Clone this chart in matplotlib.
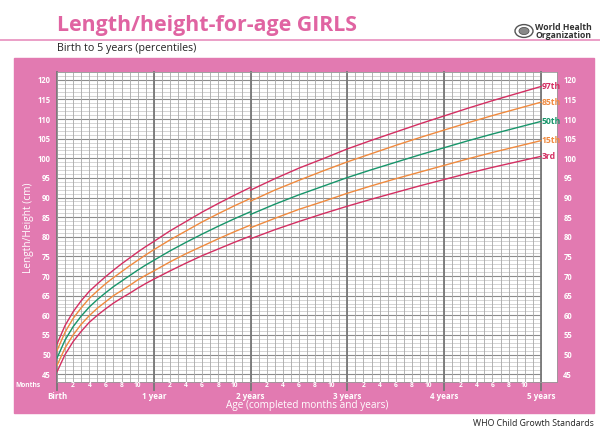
import numpy as np
import matplotlib.pyplot as plt
from matplotlib.patches import Rectangle, Circle
from matplotlib.lines import Line2D

plt.rcParams['font.family'] = ['Open Sans', 'DejaVu Sans']

# WHO girls length-for-age (birth to 2 years, lying down)
months_len = [0, 1, 2, 3, 4, 5, 6, 7, 8, 9, 10, 11, 12, 14, 16, 18, 20, 22, 24]
p3_len = [45.6, 50.0, 53.3, 55.9, 58.2, 60.0, 61.6, 63.1, 64.4, 65.6, 66.9, 68.1, 69.2, 71.3, 73.3, 75.2, 76.9, 78.6, 80.2]
p15_len = [47.2, 51.7, 55.0, 57.7, 59.9, 61.8, 63.4, 65.0, 66.3, 67.6, 69.0, 70.2, 71.3, 73.6, 75.7, 77.6, 79.5, 81.3, 83.0]
p50_len = [49.1, 53.7, 57.1, 59.8, 62.1, 64.0, 65.7, 67.3, 68.7, 70.1, 71.5, 72.8, 74.0, 76.4, 78.6, 80.7, 82.7, 84.6, 86.4]
p85_len = [51.0, 55.7, 59.2, 61.9, 64.3, 66.2, 68.0, 69.6, 71.1, 72.6, 74.0, 75.4, 76.7, 79.2, 81.5, 83.8, 85.9, 87.9, 89.8]
p97_len = [52.7, 57.4, 60.9, 63.7, 66.1, 68.0, 69.8, 71.5, 73.1, 74.6, 76.1, 77.5, 78.8, 81.5, 83.9, 86.3, 88.5, 90.6, 92.6]

# WHO girls height-for-age (2 to 5 years, standing)
months_hgt = [24, 27, 30, 33, 36, 39, 42, 45, 48, 51, 54, 57, 60]
p3_hgt = [79.5, 81.8, 83.9, 85.9, 87.8, 89.6, 91.3, 93.0, 94.6, 96.2, 97.7, 99.1, 100.5]
p15_hgt = [82.3, 84.7, 87.0, 89.0, 91.1, 93.0, 94.8, 96.5, 98.2, 99.9, 101.5, 103.0, 104.5]
p50_hgt = [85.7, 88.3, 90.7, 92.9, 95.1, 97.1, 99.0, 100.9, 102.7, 104.5, 106.2, 107.8, 109.4]
p85_hgt = [89.1, 91.9, 94.4, 96.8, 99.1, 101.2, 103.3, 105.3, 107.2, 109.1, 110.9, 112.6, 114.3]
p97_hgt = [91.9, 94.8, 97.5, 99.9, 102.4, 104.6, 106.7, 108.8, 110.8, 112.8, 114.7, 116.5, 118.3]

curve_names = ['97th', '85th', '50th', '15th', '3rd']
curve_len = [p97_len, p85_len, p50_len, p15_len, p3_len]
curve_hgt = [p97_hgt, p85_hgt, p50_hgt, p15_hgt, p3_hgt]
curve_colors = ['#d42f62', '#f08a3e', '#17956a', '#f08a3e', '#d42f62']

year_labels = ['Birth', '1 year', '2 years', '3 years', '4 years', '5 years']
month_labels = ['2', '4', '6', '8', '10']
y_ticks = list(range(45, 121, 5))

pink = '#e27ab1'
W, H = 600, 428

fig = plt.figure(figsize=(6, 4.28), dpi=100)

# pink panel
fig.add_artist(Rectangle((14 / W, 1 - 413 / H), 580 / W, 355 / H,
                         transform=fig.transFigure, color=pink, zorder=-5))
# rule under title
fig.add_artist(Line2D([0, 1], [1 - 40 / H, 1 - 40 / H], transform=fig.transFigure,
                      color='#e88fbd', lw=1.2))

fig.text(57 / W, 1 - 25 / H, 'Length/height-for-age GIRLS', color='#e064a2',
         fontsize=15.4, fontweight='bold', va='center', ha='left')
fig.text(57 / W, 1 - 48 / H, 'Birth to 5 years (percentiles)', color='#222222',
         fontsize=7.7, va='center', ha='left')

# WHO emblem + name
fig.add_artist(Circle((524 / W, 1 - 31 / H), 9 / W, transform=fig.transFigure,
                      facecolor='white', edgecolor='#555555', lw=1.0))
fig.add_artist(Circle((524 / W, 1 - 31 / H), 5 / W, transform=fig.transFigure,
                      facecolor='#888888', edgecolor='#555555', lw=0.6))
fig.text(535 / W, 1 - 27 / H, 'World Health', color='#333333', fontsize=6.2,
         fontweight='bold', va='center', ha='left')
fig.text(535 / W, 1 - 36 / H, 'Organization', color='#333333', fontsize=6.2,
         fontweight='bold', va='center', ha='left')

fig.text(594 / W, 1 - 423 / H, 'WHO Child Growth Standards', color='#222222',
         fontsize=6.3, va='center', ha='right')

fig.text(29 / W, 1 - 228 / H, 'Length/Height (cm)', color='white', fontsize=7.3,
         rotation=90, va='center', ha='center')

ax = fig.add_axes([57 / W, 1 - 382 / H, 500 / W, 310 / H])
ax.set_facecolor('white')
ax.set_xlim(0, 62)
ax.set_ylim(43, 122)

# grid
ax.hlines(np.arange(43, 123), 0, 60, color='#c4c4c4', lw=0.5, zorder=1)
ax.hlines(np.arange(45, 121, 5), 0, 60, color='#8c8c8c', lw=0.8, zorder=1)
ax.vlines(np.arange(0, 61), 43, 122, color='#a8a8a8', lw=0.6, zorder=1)
for yr in range(6):
    ax.plot([yr * 12, yr * 12], [41.0, 122], color='#777777', lw=1.3,
            clip_on=False, zorder=2)

for name, yl, yh, c in zip(curve_names, curve_len, curve_hgt, curve_colors):
    ax.plot(months_len, yl, color=c, lw=1.0, zorder=3)
    ax.plot(months_hgt, yh, color=c, lw=1.0, zorder=3)
    ax.text(60.1, yh[-1], name, color=c, fontsize=6.2, fontweight='bold',
            ha='left', va='center', zorder=4)

for s in ax.spines.values():
    s.set_color('#999999')
    s.set_linewidth(0.6)

ax.set_xticks([])
ax.set_yticks(y_ticks)
ax.set_yticklabels([str(v) for v in y_ticks])
ax.tick_params(axis='y', length=0, labelsize=5.5, labelcolor='white', pad=4.5,
               labelleft=True, labelright=True)
for t in ax.get_yticklabels():
    t.set_fontweight('bold')

# month / year labels
for yr in range(5):
    for ml in month_labels:
        ax.text(yr * 12 + int(ml), 42.1, ml, color='white', fontsize=4.8,
                ha='center', va='center', fontweight='bold')
for yr, lab in enumerate(year_labels):
    ax.text(yr * 12, 39.3, lab, color='white', fontsize=5.8, ha='center',
            va='center', fontweight='bold')
ax.text(-3.6, 42.1, 'Months', color='white', fontsize=4.8, ha='center',
        va='center', fontweight='bold')
ax.text(31, 36.9, 'Age (completed months and years)', color='white', fontsize=7.2,
        ha='center', va='center')

fig.savefig('out.png', dpi=100)
